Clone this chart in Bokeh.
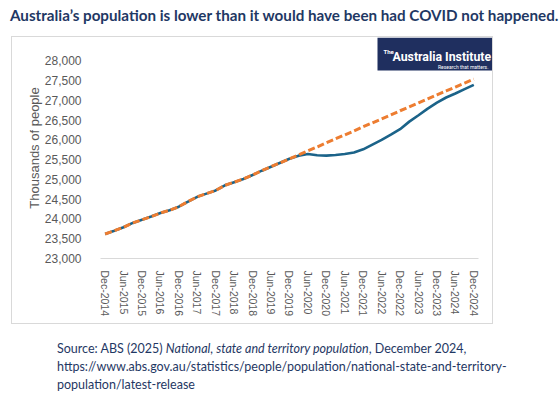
from bokeh.plotting import figure
from bokeh.layouts import column
from bokeh.models import FixedTicker, NumeralTickFormatter, Label, BoxAnnotation, Range1d, Div
from bokeh.embed import file_html
from bokeh.resources import INLINE

# ---------------- data ----------------
quarters = ["Dec-2014", "Mar-2015", "Jun-2015", "Sep-2015", "Dec-2015", "Mar-2016", "Jun-2016",
            "Sep-2016", "Dec-2016", "Mar-2017", "Jun-2017", "Sep-2017", "Dec-2017", "Mar-2018",
            "Jun-2018", "Sep-2018", "Dec-2018", "Mar-2019", "Jun-2019", "Sep-2019", "Dec-2019",
            "Mar-2020", "Jun-2020", "Sep-2020", "Dec-2020", "Mar-2021", "Jun-2021", "Sep-2021",
            "Dec-2021", "Mar-2022", "Jun-2022", "Sep-2022", "Dec-2022", "Mar-2023", "Jun-2023",
            "Sep-2023", "Dec-2023", "Mar-2024", "Jun-2024", "Sep-2024", "Dec-2024"]

actual = [23620, 23700, 23790, 23900, 23980, 24060, 24150, 24220, 24310, 24440, 24560,
          24640, 24720, 24850, 24930, 25010, 25110, 25220, 25320, 25420, 25520,
          25600, 25640, 25610, 25600, 25615, 25640, 25680, 25760, 25880, 26000,
          26130, 26270, 26460, 26620, 26790, 26940, 27070, 27170, 27280, 27390]

no_covid = [23620, 23700, 23790, 23900, 23980, 24060, 24150, 24220, 24310, 24440, 24560,
            24640, 24720, 24850, 24930, 25010, 25110, 25220, 25320, 25420, 25520,
            25620, 25720, 25820, 25925, 26025, 26125, 26225, 26330, 26430, 26530,
            26630, 26735, 26835, 26935, 27035, 27135, 27235, 27335, 27435, 27535]

tick_labels = ["Dec-2014", "Jun-2015", "Dec-2015", "Jun-2016", "Dec-2016", "Jun-2017", "Dec-2017",
               "Jun-2018", "Dec-2018", "Jun-2019", "Dec-2019", "Jun-2020", "Dec-2020", "Jun-2021",
               "Dec-2021", "Jun-2022", "Dec-2022", "Jun-2023", "Dec-2023", "Jun-2024", "Dec-2024"]

y_ticks = [23000, 23500, 24000, 24500, 25000, 25500, 26000, 26500, 27000, 27500, 28000]

title_text = "Australia\u2019s population is lower than it would have been had COVID not happened."
source_1a = "Source: ABS (2025) "
source_1b = "National, state and territory population"
source_1c = ", December 2024,"
source_2 = "https://www.abs.gov.au/statistics/people/population/national-state-and-territory-"
source_3 = "population/latest-release"

# ---------------- styling ----------------
NAVY = "#1f3864"
LOGO = "#1f2f5f"
BLUE = "#1b6389"
ORANGE = "#ed7d31"
GREY = "#595959"

FW, FH = 392, 219            # frame size (frame reaches the top/right of the chart box)
BL, BB = 88, 67              # left / bottom borders
PX_PER_Q = 376 / len(quarters)
PX_PER_Y = 196 / (y_ticks[-1] - y_ticks[0])
idx = list(range(len(quarters)))

p = figure(frame_width=FW, frame_height=FH, output_backend="svg", toolbar_location=None,
           x_range=Range1d(-0.5, -0.5 + FW / PX_PER_Q),
           y_range=Range1d(y_ticks[0], y_ticks[0] + FH / PX_PER_Y),
           min_border_left=BL, min_border_right=0, min_border_top=0, min_border_bottom=BB,
           margin=(0, 0, 0, 11), styles={"border": "1px solid #d9d9d9"})
p.outline_line_color = None
p.xgrid.grid_line_color = None
p.ygrid.grid_line_color = None
p.background_fill_color = "white"
p.border_fill_color = "white"

p.line(idx, actual, line_color=BLUE, line_width=2.6, line_join="round")
p.line(idx, no_covid, line_color=ORANGE, line_width=3, line_dash="7 3")

xa = p.xaxis[0]
xa.ticker = FixedTicker(ticks=[quarters.index(t) for t in tick_labels])
xa.major_label_overrides = {quarters.index(t): t for t in tick_labels}
xa.major_label_orientation = "vertical"
xa.major_label_text_font = "Liberation Sans"
xa.major_label_text_font_size = "10.5px"
xa.major_label_text_color = GREY
xa.major_label_standoff = 6
xa.axis_line_color = "#d9d9d9"
xa.bounds = (-0.5, len(quarters) - 0.5)
xa.major_tick_line_color = None
xa.minor_tick_line_color = None

ya = p.yaxis[0]
ya.ticker = FixedTicker(ticks=y_ticks)
ya.formatter = NumeralTickFormatter(format="0,0")
ya.major_label_text_font = "Liberation Sans"
ya.major_label_text_font_size = "12px"
ya.major_label_text_color = GREY
ya.major_label_standoff = 13
ya.axis_line_color = None
ya.major_tick_line_color = None
ya.minor_tick_line_color = None
ya.axis_label = "Thousands of people"
ya.axis_label_text_font = "Liberation Sans"
ya.axis_label_text_font_size = "13px"
ya.axis_label_text_font_style = "normal"
ya.axis_label_text_color = GREY
ya.axis_label_standoff = 0


def sx(px):   # page x -> frame screen x
    return px - 100


def sy(py):   # page y -> frame screen y (up from frame bottom)
    return 256 - py


# logo
p.add_layout(BoxAnnotation(left=sx(377), right=sx(492), top=sy(35), bottom=sy(68),
                           left_units="screen", right_units="screen",
                           top_units="screen", bottom_units="screen",
                           fill_color=LOGO, fill_alpha=1, line_color=None))


def lab(text, px, py, size, color, font="Roboto", style="normal", align="left"):
    p.add_layout(Label(x=sx(px), y=sy(py), x_units="screen", y_units="screen", text=text,
                       text_font=font, text_font_size=size, text_color=color,
                       text_font_style=style, text_align=align, text_baseline="alphabetic"))


lab("The", 383, 49, "6px", "white", style="bold")
lab("Australia Institute", 392, 54, "12.3px", "white", style="bold")
lab("Research that matters.", 488, 64.5, "5px", "white", align="right")

title = Div(text=f'<div style="font-family:Lato;font-weight:bold;font-size:15.2px;line-height:18px;'
                 f'color:{NAVY};white-space:nowrap;padding:6px 0 0 10px;">{title_text}</div>',
            width=559, height=36, margin=(0, 0, 0, 0))

source = Div(text=f'<div style="font-family:Lato;font-size:12.5px;line-height:18px;color:{NAVY};'
                  f'white-space:nowrap;padding:16px 0 0 57px;">{source_1a}<i>{source_1b}</i>{source_1c}'
                  f'<br>{source_2}<br>{source_3}</div>',
             width=559, height=72, margin=(0, 0, 0, 0))

layout = column(title, p, source, spacing=0)
open("out.html", "w").write(file_html(layout, INLINE))
